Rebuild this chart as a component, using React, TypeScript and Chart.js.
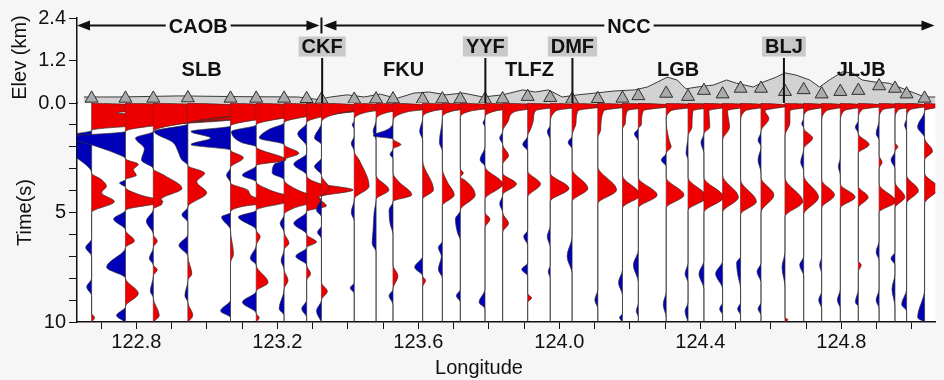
import React, { useEffect, useRef } from 'react';
import { Chart, registerables } from 'chart.js';

Chart.register(...registerables);

// ---------------- data ----------------
const X_MIN = 122.6315;
const X_MAX = 125.067;
const ELEV_MAX = 2.4;
const TIME_MAX = 10;
const xLabelLon = [122.8, 123.2, 123.6, 124.0, 124.4, 124.8];
const timeLabels = [5, 10];
const elevTicks = [0, 1.2, 2.4];

// station longitudes (deg) and elevations (km)
const stationLon = [
  122.673, 122.769, 122.848, 122.946, 123.067, 123.140, 123.219, 123.283, 123.325, 123.418,
  123.480, 123.528, 123.612, 123.668, 123.719, 123.789, 123.839, 123.910, 123.974, 124.036,
  124.109, 124.179, 124.224, 124.303, 124.365, 124.410, 124.463, 124.514, 124.572, 124.640,
  124.693, 124.744, 124.797, 124.848, 124.907, 124.952, 124.985, 125.036,
];
const stationElev = [
  0.13, 0.13, 0.13, 0.14, 0.13, 0.13, 0.13, 0.12, 0.10, 0.10,
  0.11, 0.11, 0.10, 0.11, 0.11, 0.10, 0.11, 0.18, 0.15, 0.10,
  0.12, 0.13, 0.20, 0.27, 0.18, 0.35, 0.25, 0.41, 0.41, 0.32,
  0.37, 0.25, 0.32, 0.35, 0.48, 0.41, 0.25, 0.13,
];

// topography profile
const profileLon = [
  122.651, 122.752, 122.921, 123.089, 123.258, 123.314, 123.351, 123.398, 123.446, 123.491,
  123.539, 123.587, 123.631, 123.679, 123.727, 123.783, 123.839, 123.896, 123.932, 123.969,
  124.008, 124.053, 124.101, 124.157, 124.213, 124.249, 124.278, 124.306, 124.334, 124.359,
  124.390, 124.438, 124.474, 124.502, 124.550, 124.578, 124.615, 124.640, 124.671, 124.710,
  124.738, 124.766, 124.803, 124.831, 124.859, 124.896, 124.935, 124.963, 125.000, 125.036,
  125.067,
];
const profileElev = [
  0.17, 0.17, 0.20, 0.18, 0.17, 0.10, 0.17, 0.23, 0.17, 0.25,
  0.13, 0.28, 0.31, 0.23, 0.28, 0.17, 0.23, 0.37, 0.31, 0.37,
  0.17, 0.23, 0.28, 0.34, 0.37, 0.45, 0.59, 0.73, 0.65, 0.40,
  0.45, 0.51, 0.65, 0.56, 0.45, 0.59, 0.73, 0.85, 0.79, 0.65,
  0.45, 0.65, 0.88, 0.85, 0.65, 0.59, 0.56, 0.45, 0.31, 0.17,
  0.17,
];

const regionNames = ['CAOB', 'NCC'];
const regionBoundaryLon = 123.325;
const faultNames = ['CKF', 'YYF', 'DMF', 'BLJ'];
const faultLon = [123.327, 123.790, 124.037, 124.637];
const unitNames = ['SLB', 'FKU', 'TLFZ', 'LGB', 'JLJB'];
const unitLon = [122.985, 123.558, 123.915, 124.337, 124.856];

// wiggle traces: [time (s), amplitude (relative units)]
type Knot = [number, number];
const trace01: Knot[] = [[0,0],[0.2,12],[0.45,2.5],[0.7,15],[1.25,0],[1.5,-3],[1.8,-4],[2.5,-1.5],[3.2,0],[3.5,1],[3.8,1.5],[4.1,1],[4.5,2.3],[5,0],[6.2,0],[6.6,-0.6],[7,0],[8,0],[8.4,-0.5],[8.8,0],[9.6,0],[9.8,0.3],[10,0]];
const trace02: Knot[] = [[0,0],[0.15,10],[0.5,18],[0.9,6],[1.3,0],[1.55,-6],[1.9,-3.5],[2.3,-1],[2.55,0],[2.8,1.3],[3.05,0.8],[3.3,1.1],[3.5,0],[3.65,-0.6],[3.85,0],[4.2,1.5],[4.5,3.8],[4.9,0],[5.3,-1.2],[5.8,0],[6.3,0.9],[6.6,0],[7.5,-1.9],[8,0],[8.7,1.3],[9.3,0],[9.7,-0.9],[10,0]];
const trace03: Knot[] = [[0,0],[0.2,14],[0.6,8],[1.3,0],[1.6,-1.8],[2.1,-0.9],[2.6,-1.2],[3,0],[3.3,1.1],[3.9,2.9],[4.4,0.8],[4.6,0.9],[4.85,0],[5.4,-0.7],[6,0],[6.3,0.4],[6.6,0],[7.1,-0.4],[7.4,0],[7.6,0.4],[7.9,0],[8.6,-0.3],[8.9,0],[9.7,0.6],[10,0]];
const trace04: Knot[] = [[0,0],[0.2,12],[0.5,6],[0.95,0],[1.3,-3.4],[1.8,-1.5],[2.2,-1],[2.6,-0.6],[2.85,0],[3.2,1.7],[3.6,0.9],[4.1,1.9],[4.75,0],[5.1,-0.6],[5.45,0],[6,0],[6.5,-0.9],[7,0],[7.8,0.4],[8.1,0],[8.8,-0.3],[9.1,0],[9.7,0.5],[10,0]];
const trace05: Knot[] = [[0,0],[0.2,10],[0.6,5],[1.05,0],[1.3,-4],[1.6,-2],[1.9,-4],[2.15,0],[2.5,1.3],[2.95,0],[3.3,-0.4],[3.65,0],[4,1.8],[4.3,2.4],[4.45,6.5],[4.7,1.5],[5,0],[5.2,-0.9],[5.8,0],[6.9,0.3],[7.3,0],[9,0],[9.5,-1],[9.8,0],[10,0]];
const trace06: Knot[] = [[0,0],[0.2,10],[0.6,4],[1,0],[1.3,-2.5],[1.8,-1.5],[2,0],[2.6,3],[2.85,0],[3.3,-1.4],[3.6,0],[4,1.5],[4.4,4],[4.9,0],[5.2,-1.8],[5.8,0],[6.1,0.4],[6.5,0],[7.1,-0.6],[7.4,0],[8.2,1.2],[8.6,0],[9.1,-1.4],[9.6,0],[9.8,0.3],[10,0]];
const trace07: Knot[] = [[0,0],[0.2,9],[0.5,4],[0.9,0],[1.2,-1.5],[1.6,-2.5],[1.9,0],[2.3,1.5],[2.6,0],[2.8,-1],[3.2,-1.2],[3.5,0],[4,1.5],[4.4,3.7],[4.8,1],[5.1,0],[5.5,-0.4],[5.9,0],[6.4,0.5],[6.7,0],[7.2,-0.3],[7.6,0],[8.1,0.4],[8.5,0],[9.4,-0.5],[9.7,0],[10,0]];
const trace08: Knot[] = [[0,0],[0.2,8],[0.5,3],[0.9,0],[1.4,-0.9],[2,0],[2.3,0],[2.8,-1.3],[3.3,0],[3.7,1.5],[3.97,4.7],[4.3,1.2],[4.7,2],[4.95,0],[5.5,-1.3],[6,0],[6.35,1],[6.6,0],[7,-1.1],[7.4,0],[7.8,0.4],[8.1,0],[9,0],[9.4,-0.5],[9.8,0],[10,0]];
const trace09: Knot[] = [[0,0],[0.15,7],[0.45,2],[0.9,0],[1.6,-0.7],[1.9,0],[2.5,0],[2.9,-0.7],[3.3,0],[3.9,0.8],[4.3,0],[4.9,-0.5],[5.2,0],[5.6,0],[5.9,-0.4],[6.2,0],[8.2,0],[8.6,0.6],[9,0],[9.5,-0.5],[10,0]];
const trace10: Knot[] = [[0,0],[0.15,6],[0.4,1.5],[0.8,0],[1,-0.2],[1.2,0],[1.5,0],[1.85,-0.3],[2.2,0],[2.6,0.5],[3.8,1.5],[4.4,0],[5,-0.3],[5.4,0],[8.2,0],[8.45,-0.4],[8.7,0],[10,0]];
const trace11: Knot[] = [[0,0],[0.15,6],[0.4,1.5],[0.8,0],[1.3,-0.3],[1.7,0],[3.3,0],[3.97,1.3],[4.4,0],[5,-0.2],[5.8,-0.3],[6.4,-0.4],[6.8,0],[10,0]];
const trace12: Knot[] = [[0,0],[0.15,6],[0.4,1.5],[0.9,0],[1.2,-0.5],[1.5,-2],[1.65,0],[1.9,0.8],[2.1,0],[2.35,-0.3],[2.55,0],[3.2,0],[3.6,0.6],[4.2,1.9],[4.5,0],[4.9,-0.4],[5.5,-0.3],[6,0],[7.4,0],[7.9,0.5],[8.5,0],[8.8,-0.4],[9.2,0],[10,0]];
const trace13: Knot[] = [[0,0],[0.12,5],[0.35,1.2],[0.7,0],[1.3,-0.3],[1.7,0],[2.6,0],[3.97,1.1],[4.4,0],[7,0],[7.5,-0.8],[7.9,0],[8.1,0.3],[8.4,0],[10,0]];
const trace14: Knot[] = [[0,0],[0.12,5],[0.35,1.2],[0.7,0],[1.8,-0.3],[2.2,0],[3,0],[3.6,0.5],[4.2,1.2],[4.7,0],[6.3,0],[6.6,-0.4],[7,-0.1],[7.6,-0.4],[8,0],[10,0]];
const trace15: Knot[] = [[0,0],[0.12,5],[0.35,1.2],[0.7,0],[3,0],[3.2,0.3],[3.4,0],[3.5,0.4],[4.2,1.5],[4.9,0],[5.3,-0.5],[5.9,-0.3],[6.3,0],[8.5,0],[8.8,-0.4],[9.1,0],[10,0]];
const trace16: Knot[] = [[0,0],[0.12,5],[0.35,1.2],[0.7,0],[0.9,-0.2],[1.1,0],[2,0],[2.6,-0.5],[2.9,0],[3.7,1.8],[4.4,0],[5,0],[5.3,0.5],[5.7,0],[8.5,0],[9.1,-0.6],[9.4,0],[10,0]];
const trace17: Knot[] = [[0,0],[0.1,5],[0.4,1.2],[0.8,0.6],[1.3,0],[1.6,-0.3],[1.9,0],[2.4,0.6],[2.8,0],[3.2,0],[3.7,1.4],[4.2,0],[4.6,-0.3],[5,0],[5.5,0.6],[5.9,0],[10,0]];
const trace18: Knot[] = [[0,0],[0.1,4],[0.35,0.8],[0.7,0.6],[1.2,0.3],[1.5,0],[1.9,-0.5],[2.2,0],[3.1,0],[3.7,1.3],[4.3,0],[5.8,0],[6.1,-0.4],[6.5,0],[7.3,0],[7.6,-0.6],[7.9,0],[8.7,0],[8.9,0.4],[9.1,0],[10,0]];
const trace19: Knot[] = [[0,0],[0.1,4],[0.35,0.6],[1,0],[1.3,-0.3],[1.7,0],[3.2,0],[3.9,1.9],[4.5,0],[5.6,0],[6.1,-0.3],[6.6,0],[7.4,0],[7.7,-0.2],[8,0],[10,0]];
const trace20: Knot[] = [[0,0],[0.1,4],[0.35,0.6],[0.9,0.4],[1.5,0],[1.8,-0.4],[2.1,0],[3,0],[3.9,1.6],[4.5,0],[6.1,0],[7,-0.5],[7.8,0],[10,0]];
const trace21: Knot[] = [[0,0],[0.1,4],[0.35,0.6],[1.2,0.3],[1.6,0],[2.9,0],[3.97,1.9],[4.6,0],[8.5,0],[9,-0.3],[9.4,0],[10,0]];
const trace22: Knot[] = [[0,0],[0.1,4],[0.35,0.5],[0.9,0.3],[1.2,0],[3.3,0],[4.2,1.8],[4.8,0],[7.6,0],[8.2,-0.4],[8.8,0],[9.6,0],[9.8,-0.3],[10,0]];
const trace23: Knot[] = [[0,0],[0.1,4],[0.35,0.5],[1,0.3],[1.15,0],[1.4,-0.4],[1.75,0],[3.4,0],[4.2,1.9],[4.8,0],[6.7,0],[7.4,-0.5],[8.2,0],[9.1,0],[9.5,-0.2],[9.8,0],[10,0]];
const trace24: Knot[] = [[0,0],[0.1,4],[0.35,0.5],[0.8,0],[1.7,0.3],[2,0.5],[2.3,0],[2.6,-0.5],[2.9,0],[3.4,0],[4.2,1.8],[4.8,0],[8.6,0],[9.2,-0.3],[9.8,0],[10,0]];
const trace25: Knot[] = [[0,0],[0.1,4],[0.35,0.5],[1.1,0.4],[1.5,0],[2.3,-0.2],[2.6,0],[3.4,0],[4.3,1.9],[4.9,0],[7.3,0],[7.8,-0.3],[8.2,0],[9.1,0],[9.5,-0.3],[10,0]];
const trace26: Knot[] = [[0,0],[0.1,3.5],[0.35,0.5],[1.1,0.6],[1.4,0],[1.8,-0.3],[2.3,0],[3.4,0],[4.3,2],[5,0],[7.2,0],[7.8,-0.5],[8.5,0],[10,0]];
const trace27: Knot[] = [[0,0],[0.1,3.5],[0.35,0.5],[1.1,0.7],[1.7,0],[3.3,0],[4.3,1.6],[5,0],[7.2,0],[7.8,-0.7],[8.5,0],[9.1,0],[9.4,-0.3],[9.7,0],[10,0]];
const trace28: Knot[] = [[0,0],[0.1,3.5],[0.35,0.5],[0.9,0],[3.5,0],[4.5,1.6],[5.1,0],[7,0],[7.3,-0.4],[7.8,-0.3],[8.5,0],[9.1,0],[9.4,-0.3],[9.7,0],[10,0]];
const trace29: Knot[] = [[0,0],[0.1,3],[0.35,0.4],[0.7,0.8],[1.3,0],[1.7,-0.3],[2,0],[2.6,-0.3],[3.2,0],[3.4,0],[4.2,1.3],[5,0],[7.3,0],[7.7,-0.4],[8.2,0],[9.1,0],[9.4,-0.3],[9.7,0],[10,0]];
const trace30: Knot[] = [[0,0],[0.1,3.5],[0.35,0.5],[0.9,0.5],[1.5,0],[3.4,0],[4.5,1.8],[5.2,0],[6.8,0],[7.5,-0.3],[8.4,0],[9.8,0],[9.9,0.3],[10,0]];
const trace31: Knot[] = [[0,0],[0.1,3],[0.35,0.4],[0.7,0],[0.95,-0.2],[1.15,0],[1.6,0.9],[2.1,0],[2.7,-0.3],[3.1,0],[3.3,0],[4.3,1.5],[5.1,0],[7,0],[7.4,-0.4],[7.9,0],[10,0]];
const trace32: Knot[] = [[0,0],[0.1,3],[0.35,0.5],[0.9,0],[3.5,0],[4.2,1.3],[4.8,0],[7,0],[7.4,-0.2],[7.8,0],[8.6,0],[9,-0.3],[9.4,0],[10,0]];
const trace33: Knot[] = [[0,0],[0.1,3],[0.35,0.4],[0.9,0],[2.5,0],[2.9,-0.2],[3.3,0],[3.7,0],[4.3,1.5],[4.8,0],[8.5,0],[9,-0.3],[9.4,0],[10,0]];
const trace34: Knot[] = [[0,0],[0.1,3],[0.3,0.4],[0.8,0],[1.1,-0.3],[1.4,0],[1.9,1.1],[2.3,0],[3.8,0],[4.3,1],[4.8,0],[7.2,0],[7.4,0.3],[7.7,0],[8.5,0],[9.1,-0.3],[9.3,0],[10,0]];
const trace35: Knot[] = [[0,0],[0.1,3],[0.3,0.4],[0.8,0],[1.4,-0.3],[1.7,0],[2.4,0],[2.7,0.3],[3,0],[3.7,0],[4.5,1.7],[5,0],[6.3,0],[6.8,-0.3],[7.2,0],[8.5,0],[9,-0.3],[9.4,0],[10,0]];
const trace36: Knot[] = [[0,0],[0.1,3],[0.3,0.4],[0.8,0],[1.8,0],[2,0.3],[2.2,0],[2.6,-0.4],[3,0],[3.6,0],[4.3,1],[4.8,0],[6.8,0],[7.1,-0.4],[7.4,0],[7.8,0],[8.5,-0.3],[9.3,0],[10,0]];
const trace37: Knot[] = [[0,0],[0.1,2.5],[0.3,0.4],[0.7,0],[1,-0.2],[1.3,0],[3.3,0],[4,1.2],[4.6,0],[8.5,0],[9.2,-0.5],[9.5,0],[10,0]];
const trace38: Knot[] = [[0,0],[0.1,2],[0.35,0],[1.1,-0.7],[1.6,0],[2.2,0.8],[2.6,0],[3.2,0],[3.9,1.4],[4.6,0],[8.5,0],[9.8,-0.7],[10,0]];

const traces: Knot[][] = [
  trace01, trace02, trace03, trace04, trace05, trace06, trace07, trace08, trace09, trace10,
  trace11, trace12, trace13, trace14, trace15, trace16, trace17, trace18, trace19, trace20,
  trace21, trace22, trace23, trace24, trace25, trace26, trace27, trace28, trace29, trace30,
  trace31, trace32, trace33, trace34, trace35, trace36, trace37, trace38,
];

// ---------------- styles ----------------
const GAIN = 0.0281; // degrees of longitude per amplitude unit
const PAGE_BG = '#f6f6f6';
const RED = '#ee0000';
const BLUE = '#0000b8';
const INK = '#111111';
const FONT_FAMILY = '"Liberation Sans", Arial, Helvetica, sans-serif';
const BOLD_FONT = `bold 20px ${FONT_FAMILY}`;
const REG_FONT = `20px ${FONT_FAMILY}`;

const annotPlugin = {
  id: 'annot',
  beforeDraw(chart: any) {
    const { ctx, chartArea } = chart;
    const yt = chart.scales.yT;
    ctx.save();
    ctx.fillStyle = PAGE_BG;
    ctx.fillRect(0, 0, chart.width, chart.height);
    ctx.fillStyle = '#ffffff';
    ctx.fillRect(chartArea.left, yt.top, chartArea.right - chartArea.left, yt.bottom - yt.top);
    ctx.restore();
  },
  afterDraw(chart: any) {
    const { ctx, chartArea } = chart;
    const xs = chart.scales.x;
    const ye = chart.scales.yE;
    const yt = chart.scales.yT;
    const px = (v: number) => xs.getPixelForValue(v);
    const py = (v: number) => ye.getPixelForValue(v);
    ctx.save();
    ctx.fillStyle = INK;
    ctx.strokeStyle = INK;
    ctx.font = BOLD_FONT;
    ctx.textAlign = 'center';
    ctx.textBaseline = 'middle';

    // region arrows
    const ly = Math.round(py(2.2)) + 0.5;
    const bx = px(regionBoundaryLon);
    const arrow = (tip: number, dir: number) => {
      ctx.beginPath();
      ctx.moveTo(tip, ly);
      ctx.lineTo(tip - dir * 13, ly - 5);
      ctx.lineTo(tip - dir * 13, ly + 5);
      ctx.closePath();
      ctx.fill();
    };
    const spans: [number, number][] = [[chartArea.left, bx - 2], [bx + 2, chartArea.right - 1]];
    spans.forEach(([a, b], k) => {
      const name = regionNames[k];
      const cx = (a + b) / 2;
      const w = ctx.measureText(name).width;
      ctx.lineWidth = 2;
      ctx.beginPath();
      ctx.moveTo(a + 8, ly);
      ctx.lineTo(cx - w / 2 - 3, ly);
      ctx.moveTo(cx + w / 2 + 3, ly);
      ctx.lineTo(b - 8, ly);
      ctx.stroke();
      arrow(a, -1);
      arrow(b, 1);
      ctx.fillText(name, cx, ly + 1.5);
    });
    ctx.lineWidth = 2;
    ctx.beginPath();
    ctx.moveTo(bx, ly - 8);
    ctx.lineTo(bx, ly + 8);
    ctx.stroke();

    // fault labels in grey boxes
    faultNames.forEach((name, i) => {
      const cx = px(faultLon[i]);
      const cy = py(1.595);
      const w = ctx.measureText(name).width;
      ctx.fillStyle = '#c9c9c9';
      ctx.fillRect(cx - w / 2 - 3, cy - 10, w + 6, 20);
      ctx.fillStyle = INK;
      ctx.fillText(name, cx, cy + 1);
    });

    // tectonic unit labels
    unitNames.forEach((name, i) => {
      ctx.fillText(name, px(unitLon[i]), py(0.95) + 1);
    });

    // axis titles
    ctx.font = REG_FONT;
    ctx.fillText('Longitude', px(123.772), chartArea.bottom + 46);
    ctx.save();
    ctx.translate(25, (yt.top + yt.bottom) / 2);
    ctx.rotate(-Math.PI / 2);
    ctx.fillText('Time(s)', 0, 0);
    ctx.restore();
    ctx.save();
    ctx.translate(20, (ye.top + ye.bottom) / 2 - 3);
    ctx.rotate(-Math.PI / 2);
    ctx.fillText('Elev (km)', 0, 0);
    ctx.restore();
    ctx.restore();
  },
};

function buildDatasets(): any[] {
  const sets: any[] = [];
  sets.push({
    label: 'topography',
    data: profileLon.map((lon, i) => ({ x: lon, y: profileElev[i] })),
    xAxisID: 'x',
    yAxisID: 'yE',
    fill: 'origin',
    backgroundColor: '#d2d2d2',
    borderColor: '#3a3a3a',
    borderWidth: 1,
    pointRadius: 0,
    tension: 0,
    order: 300,
  });
  sets.push({
    label: 'stations',
    data: stationLon.map((lon, i) => ({ x: lon, y: stationElev[i] })),
    xAxisID: 'x',
    yAxisID: 'yE',
    showLine: false,
    pointStyle: 'triangle',
    pointRadius: 7.5,
    pointBackgroundColor: '#ababab',
    pointBorderColor: '#2e2e2e',
    pointBorderWidth: 1,
    order: 150,
  });
  faultLon.forEach((lon, i) => {
    sets.push({
      label: faultNames[i],
      data: [{ x: lon, y: 0 }, { x: lon, y: 1.27 }],
      xAxisID: 'x',
      yAxisID: 'yE',
      borderColor: INK,
      borderWidth: 2,
      pointRadius: 0,
      order: 140,
    });
  });
  traces.forEach((tr, i) => {
    const lon = stationLon[i];
    const mk = (sign: number, color: string) => ({
      label: `trace${i + 1}${sign > 0 ? '+' : '-'}`,
      indexAxis: 'y',
      xAxisID: 'x',
      yAxisID: 'yT',
      data: tr.map(([t, a]) => ({
        x: lon + (sign > 0 ? Math.max(a, 0) : Math.min(a, 0)) * GAIN,
        y: t,
      })),
      fill: { value: lon },
      backgroundColor: color,
      borderColor: '#303030',
      borderWidth: 0.7,
      pointRadius: 0,
      cubicInterpolationMode: 'monotone',
      order: 100 - i,
    });
    sets.push(mk(1, RED));
    sets.push(mk(-1, BLUE));
  });
  return sets;
}

export default function App() {
  const ref = useRef<HTMLCanvasElement>(null);
  useEffect(() => {
    document.body.style.margin = '0';
    document.body.style.background = PAGE_BG;
    const tickFont = { family: FONT_FAMILY, size: 20 };
    const chart = new Chart(ref.current as HTMLCanvasElement, {
      type: 'line',
      data: { datasets: buildDatasets() },
      options: {
        animation: false,
        responsive: false,
        maintainAspectRatio: false,
        events: [],
        layout: { padding: { top: 18, left: 0, right: 0, bottom: 0 } },
        plugins: {
          legend: { display: false },
          tooltip: { enabled: false },
        },
        scales: {
          x: {
            type: 'linear',
            position: 'bottom',
            min: X_MIN,
            max: X_MAX,
            grid: { drawOnChartArea: false, drawTicks: true, tickLength: 7, color: INK, tickWidth: 1 },
            border: { display: true, color: INK, width: 1.5 },
            ticks: {
              stepSize: 0.1,
              includeBounds: false,
              autoSkip: false,
              maxRotation: 0,
              padding: 1,
              color: INK,
              font: tickFont,
              callback: (v: any) => {
                const k = Math.round(Number(v) * 10);
                return xLabelLon.some((l) => Math.round(l * 10) === k) ? (k / 10).toFixed(1) : '';
              },
            },
            afterFit: (s: any) => { s.height = 58; },
          },
          yT: {
            type: 'linear',
            position: 'left',
            stack: 'left',
            stackWeight: 219,
            weight: 1,
            min: 0,
            max: TIME_MAX,
            reverse: true,
            grid: { drawOnChartArea: false, drawTicks: true, tickLength: 8, color: INK },
            border: { display: true, color: INK, width: 1.5 },
            ticks: {
              stepSize: 1,
              autoSkip: false,
              padding: 3,
              color: INK,
              font: tickFont,
              callback: (v: any) => (timeLabels.includes(Number(v)) ? String(v) : ''),
            },
            afterFit: (s: any) => { s.width = 77; },
          },
          yE: {
            type: 'linear',
            position: 'left',
            stack: 'left',
            stackWeight: 85,
            weight: 2,
            min: 0,
            max: ELEV_MAX,
            grid: { drawOnChartArea: false, drawTicks: true, tickLength: 8, color: INK },
            border: { display: true, color: INK, width: 1.5 },
            ticks: {
              stepSize: 1.2,
              autoSkip: false,
              padding: 3,
              color: INK,
              font: tickFont,
              callback: (v: any) => {
                const n = Number(v);
                return elevTicks.some((e) => Math.abs(e - n) < 1e-6) ? n.toFixed(1) : '';
              },
            },
            afterFit: (s: any) => { s.width = 77; },
          },
        },
      } as any,
      plugins: [annotPlugin],
    });
    return () => chart.destroy();
  }, []);
  return (
    <div style={{ width: 944, height: 380, background: PAGE_BG }}>
      <canvas ref={ref} width={944} height={380} style={{ display: 'block' }} />
    </div>
  );
}
